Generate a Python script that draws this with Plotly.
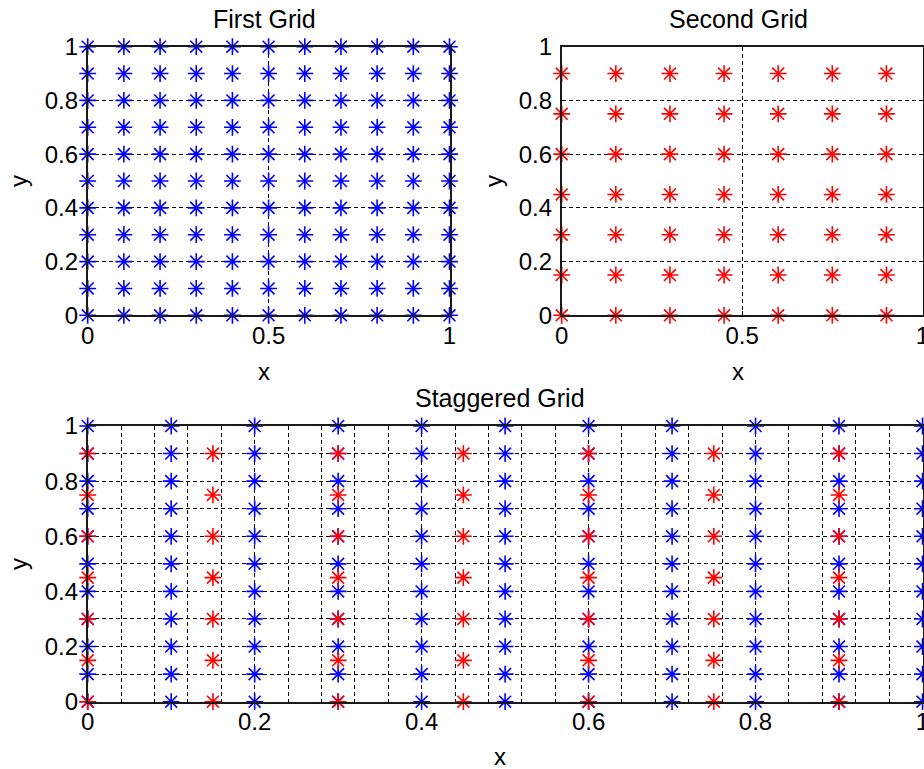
import plotly.graph_objects as go

# Node coordinates of the two grids
first_x = [0.0, 0.1, 0.2, 0.3, 0.4, 0.5, 0.6, 0.7, 0.8, 0.9, 1.0]
first_y = [0.0, 0.1, 0.2, 0.3, 0.4, 0.5, 0.6, 0.7, 0.8, 0.9, 1.0]
second_x = [0.0, 0.15, 0.3, 0.45, 0.6, 0.75, 0.9]
second_y = [0.0, 0.15, 0.3, 0.45, 0.6, 0.75, 0.9]

# Tick positions and labels
y_ticks = [0, 0.2, 0.4, 0.6, 0.8, 1]
y_labels = ["0", "0.2", "0.4", "0.6", "0.8", "1"]
top_x_ticks = [0, 0.5, 1]
top_x_labels = ["0", "0.5", "1"]
stag_x_ticks = [0, 0.2, 0.4, 0.6, 0.8, 1]
stag_x_labels = ["0", "0.2", "0.4", "0.6", "0.8", "1"]

BLUE = "#0000FF"
RED = "#FF0000"
FONT = "Liberation Sans, Arial, sans-serif"
TICK_SIZE = 24
TITLE_SIZE = 25
DASH = "4px,3px"

W, H = 924, 769


def mesh(xs, ys):
    px, py = [], []
    for x in xs:
        for y in ys:
            px.append(x)
            py.append(y)
    return px, py


def marker_trace(xs, ys, color, xa, ya):
    px, py = mesh(xs, ys)
    return go.Scatter(
        x=px, y=py, mode="markers", xaxis=xa, yaxis=ya,
        cliponaxis=False, showlegend=False, hoverinfo="skip",
        marker=dict(symbol="asterisk-open", size=14, color=color,
                    line=dict(color=color, width=1.6)),
    )


fig = go.Figure()
fig.add_trace(marker_trace(first_x, first_y, BLUE, "x", "y"))
fig.add_trace(marker_trace(second_x, second_y, RED, "x2", "y2"))
fig.add_trace(marker_trace(first_x, first_y, BLUE, "x3", "y3"))
fig.add_trace(marker_trace(second_x, second_y, RED, "x3", "y3"))


def px_dom(a, b):
    return [a / W, b / W]


def py_dom(top, bottom):
    return [(H - bottom) / H, (H - top) / H]


def axis_style(tickvals, ticktext, domain, anchor, minor=None, standoff=None):
    d = dict(
        domain=domain, anchor=anchor, range=[0, 1],
        tickmode="array", tickvals=tickvals, ticktext=ticktext,
        showline=True, mirror=True, linecolor="#1a1a1a", linewidth=1.5,
        ticks="inside", ticklen=5, tickcolor="black",
        showgrid=True, gridcolor="black", gridwidth=1.1, griddash=DASH,
        zeroline=False, fixedrange=True, automargin=False,
        ticklabeloverflow="allow",
        tickfont=dict(family=FONT, size=TICK_SIZE, color="black"),
    )
    if standoff is not None:
        d["ticklabelstandoff"] = standoff
    if minor is not None:
        d["minor"] = dict(dtick=minor, tick0=0, showgrid=True,
                          gridcolor="black", gridwidth=1.1, griddash=DASH,
                          ticks="")
    return d


top_top, top_bot = 46.7, 315.3
bot_top, bot_bot = 426.0, 701.7

fig.update_layout(
    width=W, height=H,
    margin=dict(l=0, r=0, t=0, b=0, autoexpand=False),
    paper_bgcolor="white", plot_bgcolor="white",
    xaxis=axis_style(top_x_ticks, top_x_labels, px_dom(87.7, 449.5), "y", standoff=-2),
    yaxis=axis_style(y_ticks, y_labels, py_dom(top_top, top_bot), "x", standoff=3),
    xaxis2=axis_style(top_x_ticks, top_x_labels, px_dom(561.7, 922.5), "y2", standoff=-2),
    yaxis2=axis_style(y_ticks, y_labels, py_dom(top_top, top_bot), "x2", standoff=3),
    xaxis3=axis_style(stag_x_ticks, stag_x_labels, px_dom(87.7, 922.5), "y3",
                      minor=0.04, standoff=-2),
    yaxis3=axis_style(y_ticks, y_labels, py_dom(bot_top, bot_bot), "x3",
                      minor=0.1, standoff=3),
)


def text(label, x_px, y_px, size, angle=0):
    fig.add_annotation(
        text=label, x=x_px / W, y=1 - y_px / H, xref="paper", yref="paper",
        showarrow=False, textangle=angle, xanchor="center", yanchor="middle",
        font=dict(family=FONT, size=size, color="black"),
    )


text("First Grid", 264, 19, TITLE_SIZE)
text("Second Grid", 738, 19, TITLE_SIZE)
text("Staggered Grid", 500, 398, TITLE_SIZE)
text("x", 264, 371, TICK_SIZE)
text("x", 738, 371, TICK_SIZE)
text("x", 500, 756, TICK_SIZE)
text("y", 18, 181, TICK_SIZE, -90)
text("y", 493, 181, TICK_SIZE, -90)
text("y", 18, 564, TICK_SIZE, -90)

fig.write_html("out.html")
